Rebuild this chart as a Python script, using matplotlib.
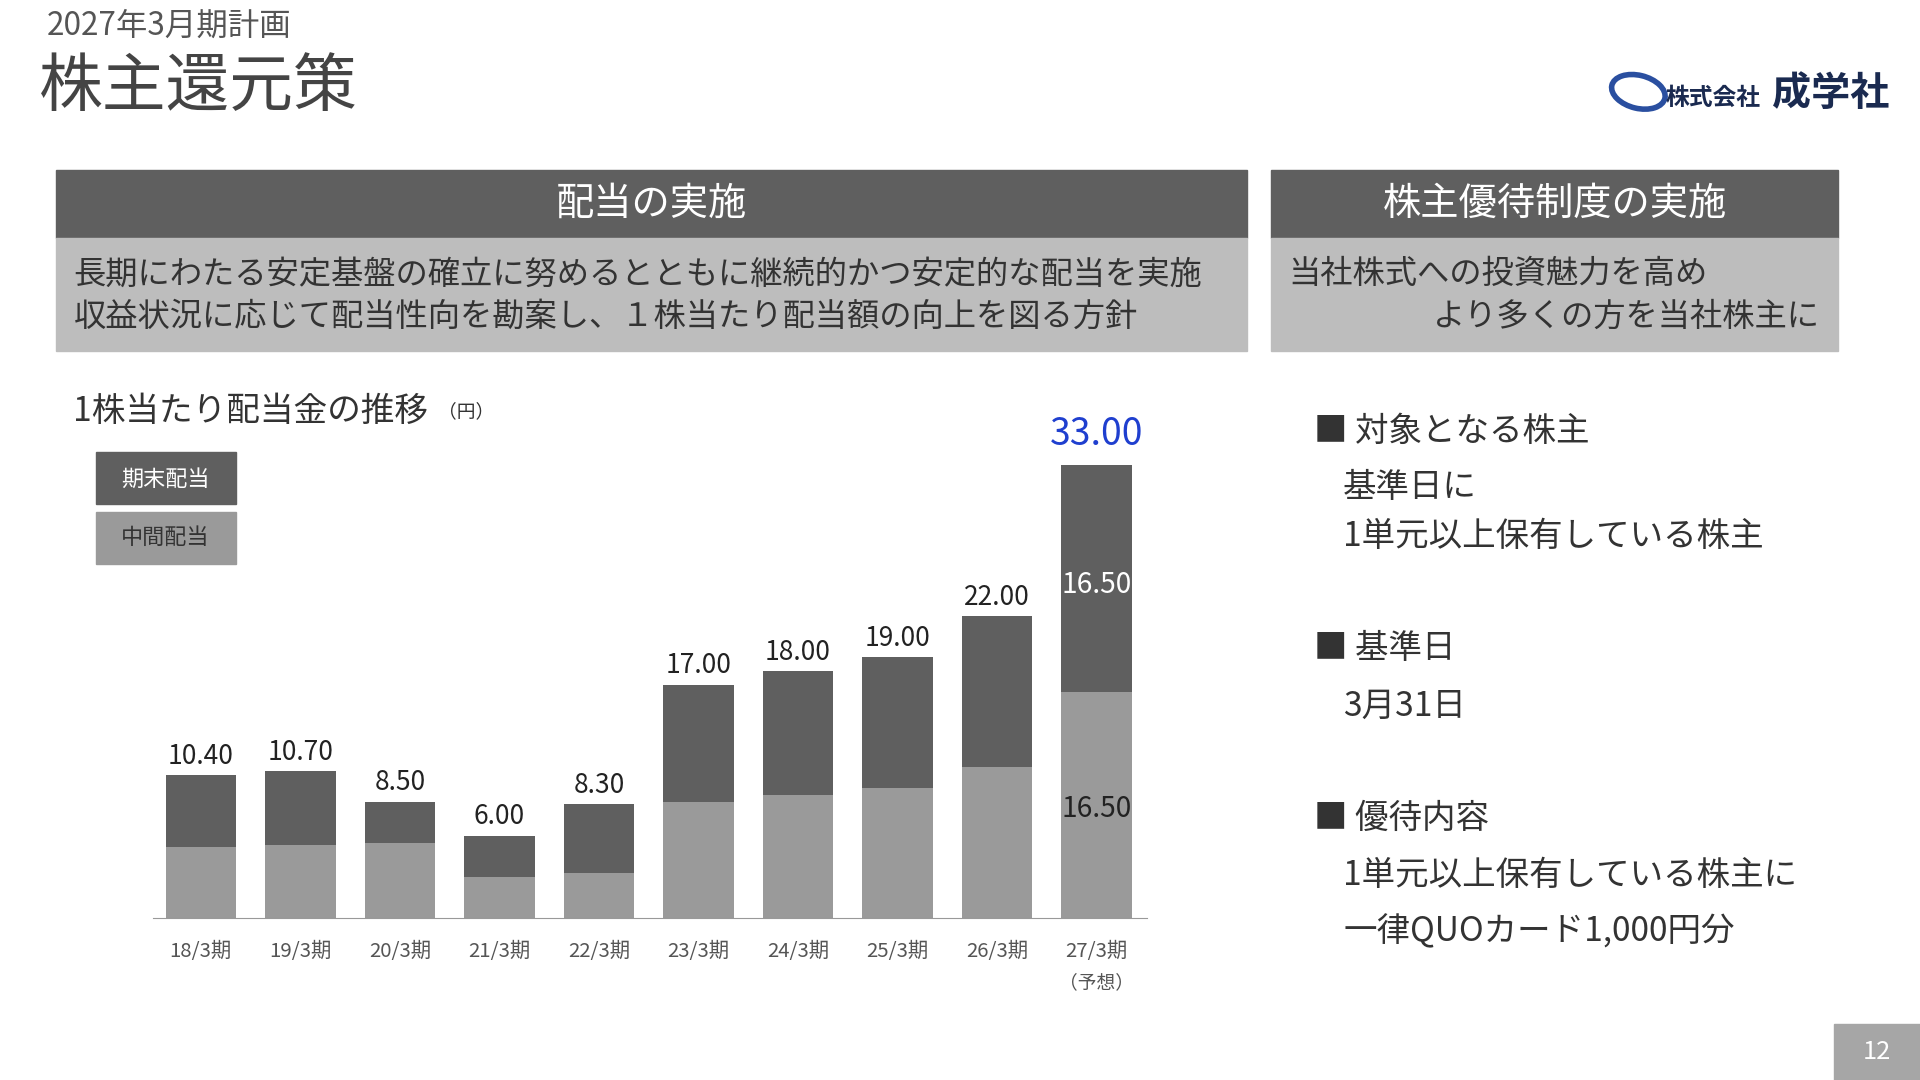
import matplotlib
matplotlib.use("Agg")
import matplotlib.pyplot as plt
from matplotlib.patches import Rectangle, Ellipse

plt.rcParams['font.family'] = ['Noto Sans CJK JP', 'DejaVu Sans']

periods = ["18/3期", "19/3期", "20/3期", "21/3期", "22/3期", "23/3期", "24/3期", "25/3期", "26/3期", "27/3期"]
interim = [5.2, 5.35, 5.5, 3.0, 3.3, 8.5, 9.0, 9.5, 11.0, 16.5]
final = [5.2, 5.35, 3.0, 3.0, 5.0, 8.5, 9.0, 9.5, 11.0, 16.5]
totals = ["10.40", "10.70", "8.50", "6.00", "8.30", "17.00", "18.00", "19.00", "22.00", "33.00"]

W, H = 1568, 882
fig = plt.figure(figsize=(19.2, 10.8), dpi=100)
S = 1920 / W

def fx(x): return x / W
def fy(y): return 1 - y / H

def txt(x, y, s, size, color="#333333", ha="left", va="center", **kw):
    fig.text(fx(x), fy(y), s, fontsize=size * S, color=color, ha=ha, va=va, **kw)

def rect(x0, y0, x1, y1, color):
    fig.patches.append(Rectangle((fx(x0), fy(y1)), fx(x1) - fx(x0), fy(y0) - fy(y1),
                                 transform=fig.transFigure, color=color, zorder=0))

# Titles
txt(38, 21, "2027年3月期計画", 18.5, "#555555")
txt(32, 72, "株主還元策", 37.5, "#444444")

# Logo
fig.patches.append(Ellipse((fx(1338), fy(75)), fx(40), 30 / H, angle=30, transform=fig.transFigure,
                           fill=False, ec="#2a4fa0", lw=4))
txt(1360, 80, "株式会社", 14, "#1a2a50", weight="bold")
txt(1447, 76, "成学社", 23, "#1a2a50", weight="bold")

# Header boxes
rect(46, 139, 1018, 194, "#5f5f5f")
rect(46, 194, 1018, 287, "#bdbdbd")
rect(1038, 139, 1501, 194, "#5f5f5f")
rect(1038, 194, 1501, 287, "#bdbdbd")
txt(532, 167, "配当の実施", 22.5, "white", ha="center")
txt(1270, 167, "株主優待制度の実施", 22.5, "white", ha="center")
txt(60, 224, "長期にわたる安定基盤の確立に努めるとともに継続的かつ安定的な配当を実施", 19, "#333333")
txt(60, 259, "収益状況に応じて配当性向を勘案し、１株当たり配当額の向上を図る方針", 19, "#333333")
txt(1052, 224, "当社株式への投資魅力を高め", 19, "#333333")
txt(1170, 259, "より多くの方を当社株主に", 19, "#333333")

# Right text
for x, y, s in [(1073, 352, "■ 対象となる株主"), (1097, 398, "基準日に"), (1097, 438, "1単元以上保有している株主"),
                (1073, 530, "■ 基準日"), (1097, 577, "3月31日"), (1073, 668, "■ 優待内容"),
                (1097, 715, "1単元以上保有している株主に"), (1097, 761, "一律QUOカード1,000円分")]:
    txt(x, y, s, 19.7, "#333333")

# Page number
rect(1498, 836, 1568, 882, "#a6a6a6")
txt(1533, 859, "12", 15, "white", ha="center")

# Chart title and legend
txt(60, 336, "1株当たり配当金の推移", 19.8, "#333333")
txt(358, 336, "（円）", 11, "#333333")
rect(78, 369, 193, 412, "#5f5f5f")
txt(135, 392, "期末配当", 13, "white", ha="center")
rect(78, 418, 193, 461, "#9a9a9a")
txt(135, 439, "中間配当", 13, "#333333", ha="center")

# Bars
ax = fig.add_axes([fx(125), fy(750), fx(937) - fx(125), fy(346) - fy(750)])
xs = list(range(len(periods)))
ax.bar(xs, interim, width=0.71, color="#9a9a9a")
ax.bar(xs, final, width=0.71, bottom=interim, color="#5f5f5f")
ax.set_xlim(-0.48, 9.51)
ax.set_ylim(0, 36)
for s in ["top", "right", "left"]:
    ax.spines[s].set_visible(False)
ax.spines["bottom"].set_color("#999999")
ax.set_yticks([])
ax.set_xticks(xs)
ax.set_xticklabels(periods, fontsize=12 * S, color="#555555")
ax.tick_params(axis="x", length=0, pad=16)
for i in range(len(periods)):
    tot = interim[i] + final[i]
    if i == len(periods) - 1:
        ax.text(i, tot + 0.8, totals[i], ha="center", va="bottom", fontsize=22 * S, color="#1f3fcf")
        ax.text(i, interim[i] + final[i] * 0.5 - 0.5, f"{final[i]:.2f}", ha="center", va="center", fontsize=16.5 * S, color="white")
        ax.text(i, interim[i] * 0.5 - 0.3, f"{interim[i]:.2f}", ha="center", va="center", fontsize=16.5 * S, color="#222222")
    else:
        ax.text(i, tot + 0.4, totals[i], ha="center", va="bottom", fontsize=15.5 * S, color="#222222")
ax.text(9, -4.7, "（予想）", ha="center", va="center", fontsize=11 * S, color="#555555")

fig.savefig("out.png", dpi=100, facecolor="white")
